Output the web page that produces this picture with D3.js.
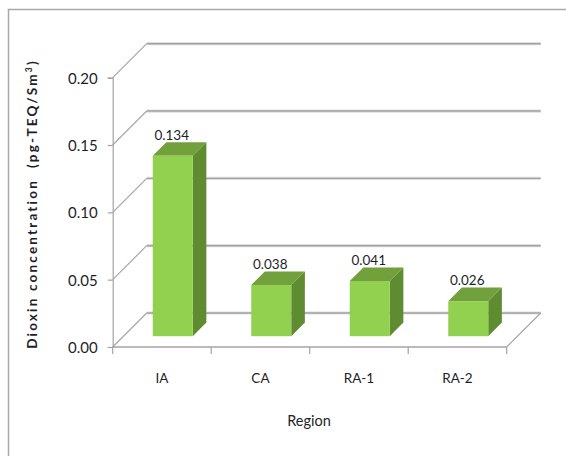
<!DOCTYPE html>
<html>
<head>
<meta charset="utf-8">
<script src="https://cdn.jsdelivr.net/npm/d3@7"></script>
<style>
  html, body { margin: 0; padding: 0; background: #fff; }
  svg { display: block; }
  text { font-family: Lato, "Open Sans", sans-serif; fill: #1e1e28; }
</style>
</head>
<body>
<svg id="chart" width="566" height="456"></svg>
<script>
// Dioxin concentration by sampling region
const regions = ["IA", "CA", "RA-1", "RA-2"];
const dioxin = [0.134, 0.038, 0.041, 0.026];
const valueLabels = ["0.134", "0.038", "0.041", "0.026"];
const yTicks = [0, 0.05, 0.10, 0.15, 0.20];

const svg = d3.select("#chart");

// chart frame
svg.append("rect")
  .attr("x", 8.5).attr("y", 9.5)
  .attr("width", 620).attr("height", 520)
  .attr("fill", "none").attr("stroke", "#a9a9a9").attr("stroke-width", 1.5);

// front plane scales, plus an oblique depth offset for the 3-D look
const x = d3.scaleBand().domain(regions).range([112.7, 506.7]).padding(0);
const y = d3.scaleLinear().domain([0, 0.2]).range([347, 77.7]);
const depth = 34;          // wall depth (45° oblique)
const barW = 40;           // bar front width
const barD0 = 10.8;        // bar starts this far into the depth
const barD = 13.6;         // bar depth

const [x0, x1] = x.range();
const grid = svg.append("g");

// back wall gridlines and their oblique connectors to the front axis
yTicks.forEach(t => {
  const yf = y(t), yb = y(t) - depth;
  grid.append("line")
    .attr("x1", x0 + depth).attr("x2", x1 + depth)
    .attr("y1", yb).attr("y2", yb)
    .attr("stroke", "#dedede").attr("stroke-width", 3.2);
  grid.append("line")
    .attr("x1", x0 + depth).attr("x2", x1 + depth)
    .attr("y1", yb).attr("y2", yb)
    .attr("stroke", "#a3a3a3").attr("stroke-width", 1.4);
  grid.append("line")
    .attr("x1", x0).attr("y1", yf)
    .attr("x2", x0 + depth).attr("y2", yb)
    .attr("stroke", "#a8a8a8").attr("stroke-width", 1.2);
});

// floor: front edge and right edge
grid.append("line")
  .attr("x1", x0).attr("x2", x1).attr("y1", y(0)).attr("y2", y(0))
  .attr("stroke", "#a3a3a3").attr("stroke-width", 1.4);
grid.append("line")
  .attr("x1", x1).attr("y1", y(0)).attr("x2", x1 + depth).attr("y2", y(0) - depth)
  .attr("stroke", "#a8a8a8").attr("stroke-width", 1.2);

// value axis
const yAxis = d3.axisLeft(y).tickValues(yTicks).tickFormat(d3.format(".2f"))
  .tickSize(5).tickPadding(10);
const ya = svg.append("g").attr("transform", `translate(${x0},0)`).call(yAxis);
ya.select(".domain").attr("stroke", "#a3a3a3").attr("stroke-width", 1.2);
ya.selectAll(".tick line").attr("stroke", "#a3a3a3").attr("stroke-width", 1.2);
ya.selectAll(".tick text").attr("font-size", 15).attr("font-family", "Lato, sans-serif")
  .attr("fill", "#1e1e3a").attr("dy", "0.36em");

// category axis
const xAxis = d3.axisBottom(x).tickSize(0).tickPadding(26);
const xa = svg.append("g").attr("transform", `translate(0,${y(0)})`).call(xAxis);
xa.select(".domain").remove();
xa.selectAll(".tick text").attr("font-size", 13.5).attr("font-family", "Lato, sans-serif")
  .attr("fill", "#1e1e28");
// category dividers below the floor
const dividers = regions.map(r => x(r)).concat([x1]);
svg.append("g").selectAll("line").data(dividers).join("line")
  .attr("x1", d => d).attr("x2", d => d)
  .attr("y1", y(0)).attr("y2", y(0) + 7)
  .attr("stroke", "#a3a3a3").attr("stroke-width", 1.2);

// bars
const bars = svg.append("g");
regions.forEach((r, i) => {
  const v = dioxin[i];
  const xl = x(r) + x.bandwidth() / 2 - barW / 2 + barD0;
  const xr = xl + barW;
  const yb = y(0) - barD0;
  const yt = y(v) - barD0;
  const d = barD;
  // side
  bars.append("path")
    .attr("d", d3.line()([[xr, yt], [xr + d, yt - d], [xr + d, yb - d], [xr, yb]]) + "Z")
    .attr("fill", "#5f8b31");
  // top
  bars.append("path")
    .attr("d", d3.line()([[xl, yt], [xr, yt], [xr + d, yt - d], [xl + d, yt - d]]) + "Z")
    .attr("fill", "#72a03c");
  // front
  bars.append("rect")
    .attr("x", xl).attr("y", yt).attr("width", barW).attr("height", yb - yt)
    .attr("fill", "#92d050");
  // value label
  bars.append("text")
    .attr("x", xl + barW / 2 - 1).attr("y", yt - d - 2.5)
    .attr("text-anchor", "middle").attr("font-size", 13.5)
    .attr("fill", "#141428")
    .text(valueLabels[i]);
});

// axis titles
svg.append("text")
  .attr("x", 309).attr("y", 426)
  .attr("text-anchor", "middle").attr("font-size", 14.5)
  .text("Region");

const yt = svg.append("text")
  .attr("transform", "translate(37,204) rotate(-90)")
  .attr("text-anchor", "middle").attr("font-size", 13.5).attr("font-weight", "bold")
  .attr("letter-spacing", 2.2)
  .style("white-space", "pre");
yt.append("tspan").text("Dioxin concentration  (pg-TEQ/Sm");
yt.append("tspan").attr("font-size", 8.5).attr("dy", -5).text("3");
yt.append("tspan").attr("dy", 5).text(")");
</script>
</body>
</html>
